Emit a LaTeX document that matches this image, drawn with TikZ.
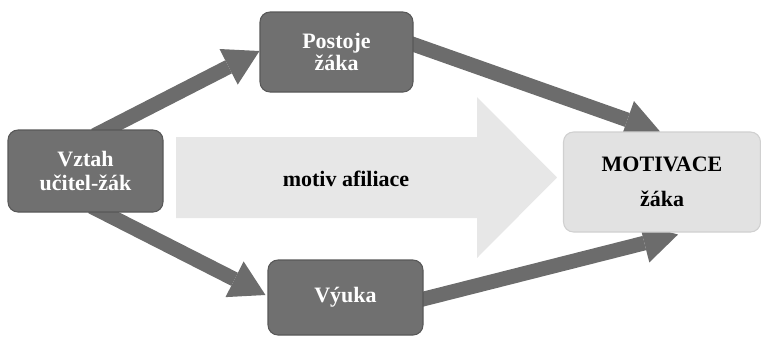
\documentclass[tikz,border=0pt]{standalone}
\usepackage{fontspec}
\setmainfont{Liberation Serif}
\usepackage{tikz}
\usetikzlibrary{arrows.meta,calc,backgrounds}
\definecolor{darkbox}{RGB}{112,112,112}
\definecolor{darkline}{RGB}{88,88,88}
\definecolor{arrowgray}{RGB}{108,108,108}
\definecolor{lightbox}{RGB}{226,226,226}
\definecolor{lightline}{RGB}{208,208,208}
\definecolor{bigarrow}{RGB}{231,231,231}
\tikzstyle{block}=[draw=darkline, fill=darkbox, rounded corners=7.5pt, text=white, font=\fontsize{16.5}{18.5}\selectfont\bfseries, align=center, line width=0.8pt]
\tikzstyle{goal}=[draw=lightline, fill=lightbox, rounded corners=7.5pt, font=\fontsize{16.5}{18.5}\selectfont\bfseries, align=center, line width=0.8pt]
\tikzstyle{arrow}=[line width=11pt, color=arrowgray, -{Triangle[length=26pt,width=30pt,line width=0pt]}]

\begin{document}
\begin{tikzpicture}[x=0.75pt,y=-0.75pt]
    \useasboundingbox (0,0) rectangle (761,337);
    % big arrow in the middle
    \fill[bigarrow] (176,137) -- (477,137) -- (477,97) -- (557,177.5) -- (477,258) -- (477,218) -- (176,218) -- cycle;
    \node (afil) at (346,179) [font=\fontsize{16.5}{18.5}\selectfont\bfseries] {motiv afiliace};
    % boxes
    \node (vztah) at (85.5,171) [block, minimum width=116.25pt, minimum height=61.5pt] {Vztah\\[-1pt]učitel-žák};
    \node (postoje) at (336.5,52) [block, minimum width=114.75pt, minimum height=60pt] {Postoje\\[-2pt]žáka};
    \node (vyuka) at (345.5,297.5) [block, minimum width=116.25pt, minimum height=56.25pt] {Výuka};
    \node (motiv) at (662,182) [goal, minimum width=147.75pt, minimum height=75pt] {MOTIVACE\\[8pt]žáka};
    \begin{pgfonlayer}{background}
    \path[arrow]
        ($(vztah.north)+(9,6)$) edge ($(postoje.west)+(0,-1)$)
        ($(postoje.east)+(-4,-9)$) edge ($(motiv.north)+(-2,0)$)
        ($(vztah.south)+(6,-6)$) edge ($(vyuka.west)+(-2,-2.5)$)
        ($(vyuka.east)+(-4,2.5)$) edge ($(motiv.south)+(16,2)$);
    \end{pgfonlayer}
\end{tikzpicture}
\end{document}
